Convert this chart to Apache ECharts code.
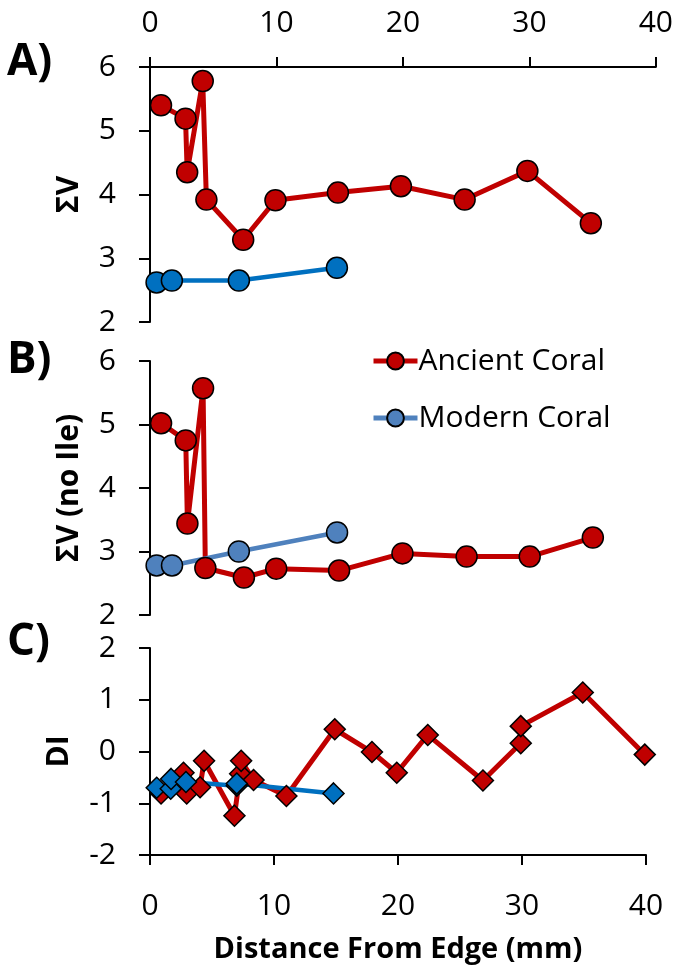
<!DOCTYPE html>
<html><head><meta charset="utf-8">
<script src="https://cdn.jsdelivr.net/npm/echarts@6/dist/echarts.min.js"></script>
<style>html,body{margin:0;padding:0;background:#fff}#c{width:676px;height:965px}</style>
</head><body><div id="c"></div>
<script>
// Panel A: ΣV
const ancientA_x = [0.87, 2.81, 2.94, 4.17, 4.46, 7.37, 9.92, 14.86, 19.84, 24.88, 29.84, 34.86];
const ancientA_y = [5.40, 5.19, 4.35, 5.78, 3.92, 3.29, 3.91, 4.03, 4.13, 3.92, 4.37, 3.55];
const modernA_x = [0.52, 1.73, 7.03, 14.78];
const modernA_y = [2.62, 2.65, 2.65, 2.85];
// Panel B: ΣV (no Ile)
const ancientB_x = [0.87, 2.81, 2.94, 4.17, 4.35, 7.38, 9.92, 14.86, 19.84, 24.88, 29.84, 34.8];
const ancientB_y = [5.02, 4.75, 3.44, 5.57, 2.74, 2.59, 2.73, 2.70, 2.97, 2.92, 2.92, 3.22];
const modernB_x = [0.52, 1.73, 6.98, 14.7];
const modernB_y = [2.78, 2.78, 3.00, 3.30];
// Panel C: DI
const ancientC_x = [0.89, 2.7, 2.96, 4.04, 4.36, 6.81, 7.27, 7.35, 8.35, 11.0, 14.9, 17.9, 19.9, 22.4, 26.85, 29.9, 29.9, 34.9, 39.9];
const ancientC_y = [-0.81, -0.41, -0.81, -0.69, -0.18, -1.24, -0.43, -0.18, -0.55, -0.86, 0.43, -0.01, -0.41, 0.32, -0.56, 0.16, 0.49, 1.14, -0.06];
const modernC_x = [0.54, 1.67, 1.7, 2.9, 7.0, 7.0, 14.8];
const modernC_y = [-0.70, -0.72, -0.53, -0.59, -0.66, -0.62, -0.81];

const xTicks = [0, 10, 20, 30, 40];
const seriesNames = ['Ancient Coral', 'Modern Coral'];
const panelLabels = ['A)', 'B)', 'C)'];
const yNames = ['ΣV', 'ΣV (no Ile)', 'DI'];
const xName = 'Distance From Edge (mm)';

const zip = (xs, ys) => xs.map((x, i) => [x, ys[i]]);
const RED = '#C00000', BLUE = '#0070C0', LBLUE = '#4F81BD';
const FONT = '"Open Sans", sans-serif';

const chart = echarts.init(document.getElementById('c'), null, {renderer: 'canvas'});
const axisLine = {show: true, onZero: false, lineStyle: {color: '#000', width: 2}};
const axisTick = {show: true, length: 11, lineStyle: {color: '#000', width: 2}};
const lbl = {color: '#000', fontSize: 30, fontFamily: FONT};
const nameStyle = {color: '#000', fontSize: 30, fontWeight: 'bold', fontFamily: FONT};

function yAxis(idx, min, max, gap) {
  return {gridIndex: idx, type: 'value', min: min, max: max, interval: 1,
    axisLine: axisLine, axisTick: axisTick, splitLine: {show: false},
    axisLabel: Object.assign({margin: 34}, lbl),
    name: yNames[idx], nameLocation: 'middle', nameGap: gap, nameTextStyle: nameStyle};
}
function xAxis(idx, opts) {
  return Object.assign({gridIndex: idx, type: 'value', min: xTicks[0], max: xTicks[xTicks.length - 1], interval: 10,
    axisLine: axisLine, axisTick: Object.assign({}, axisTick, {length: 10}), splitLine: {show: false},
    axisLabel: Object.assign({margin: 29}, lbl)}, opts);
}
function line(name, data, xi, color, symbol, size, width) {
  return {name: name, type: 'line', xAxisIndex: xi, yAxisIndex: xi, data: data,
    symbol: symbol, symbolSize: size, showSymbol: true,
    lineStyle: {color: color, width: width},
    itemStyle: {color: color, borderColor: '#000', borderWidth: 1.5},
    emphasis: {disabled: true}, animation: false};
}

const panelFont = 'bold 44px "Open Sans", sans-serif';

chart.setOption({
  animation: false,
  textStyle: {fontFamily: FONT},
  grid: [
    {left: 150, top: 67, width: 509, height: 255},
    {left: 150, top: 361, width: 509, height: 254},
    {left: 150, top: 648, width: 496, height: 217}
  ],
  xAxis: [
    xAxis(0, {position: 'top'}),
    xAxis(1, {show: false}),
    xAxis(2, {position: 'bottom', name: xName, nameLocation: 'middle', nameGap: 80,
      nameTextStyle: Object.assign({}, nameStyle, {fontSize: 29}),
      axisLabel: Object.assign({margin: 36}, lbl)})
  ],
  yAxis: [yAxis(0, 2, 6, 66), yAxis(1, 2, 6, 66), yAxis(2, -2, 2, 76)],
  legend: {
    data: [
      {name: seriesNames[0], lineStyle: {width: 5}},
      {name: seriesNames[1], lineStyle: {width: 5}}
    ],
    orient: 'vertical', left: 366, top: 341, itemGap: 27,
    itemWidth: 44, itemHeight: 21,
    textStyle: {color: '#000', fontSize: 30, fontFamily: FONT, padding: [0, 0, 0, -4]},
    selectedMode: false
  },
  graphic: [
    {type: 'text', left: 7, top: 40, style: {text: panelLabels[0], font: panelFont, fill: '#000'}},
    {type: 'text', left: 7, top: 338, style: {text: panelLabels[1], font: panelFont, fill: '#000'}},
    {type: 'text', left: 7, top: 620, style: {text: panelLabels[2], font: panelFont, fill: '#000'}}
  ],
  series: [
    line('Ancient A', zip(ancientA_x, ancientA_y), 0, RED, 'circle', 21, 5),
    line('Modern A', zip(modernA_x, modernA_y), 0, BLUE, 'circle', 21, 4.5),
    line(seriesNames[0], zip(ancientB_x, ancientB_y), 1, RED, 'circle', 21, 5),
    line(seriesNames[1], zip(modernB_x, modernB_y), 1, LBLUE, 'circle', 21, 4.5),
    line('Ancient C', zip(ancientC_x, ancientC_y), 2, RED, 'diamond', 21, 5),
    line('Modern C', zip(modernC_x, modernC_y), 2, BLUE, 'diamond', 21, 4.5)
  ]
});
</script></body></html>
